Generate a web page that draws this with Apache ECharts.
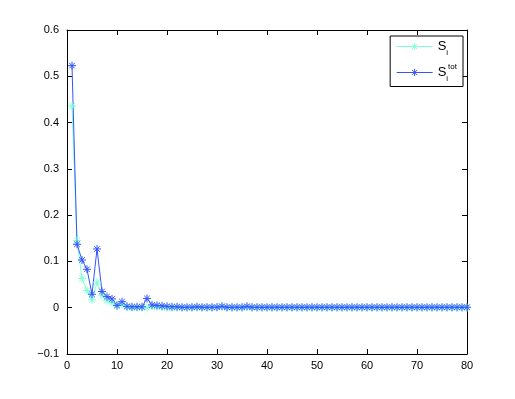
<!DOCTYPE html>
<html>
<head>
<meta charset="utf-8">
<script src="https://cdn.jsdelivr.net/npm/echarts@6/dist/echarts.min.js"></script>
<style>
  html, body { margin: 0; padding: 0; background: #fff; }
  #chart { width: 515px; height: 399px; }
</style>
</head>
<body>
<div id="chart"></div>
<script>
// 指标序号 1..80
const idx = [];
for (let i = 1; i <= 80; i++) idx.push(i);

// 一阶敏感度 S_i
const sFirst = [
  0.436, 0.145, 0.063, 0.037, 0.017, 0.055, 0.026, 0.015, 0.011, 0.004,
  0.007, 0.001, 0.000, 0.000, 0.000, 0.000, 0.003, 0.002, 0.001, 0.000,
  0.000, 0.000, 0.000, 0.000, 0.000, 0.000, 0.000, 0.000, 0.000, 0.001,
  0.003, 0.000, 0.000, 0.000, 0.000, 0.001, 0.000, 0.000, 0.000, 0.000,
  0.000, 0.000, 0.000, 0.000, 0.000, 0.000, 0.000, 0.000, 0.000, 0.000,
  0.000, 0.000, 0.000, 0.000, 0.000, 0.000, 0.000, 0.000, 0.000, 0.000,
  0.000, 0.000, 0.000, 0.000, 0.000, 0.000, 0.000, 0.000, 0.000, 0.000,
  0.000, 0.000, 0.000, 0.000, 0.000, 0.000, 0.000, 0.000, 0.000, 0.000
];

// 总敏感度 S_i^tot
const sTotal = [
  0.523, 0.137, 0.103, 0.083, 0.029, 0.127, 0.035, 0.024, 0.019, 0.005,
  0.013, 0.003, 0.002, 0.002, 0.002, 0.020, 0.006, 0.005, 0.004, 0.003,
  0.002, 0.002, 0.001, 0.001, 0.001, 0.002, 0.001, 0.001, 0.001, 0.001,
  0.003, 0.001, 0.001, 0.001, 0.001, 0.003, 0.001, 0.001, 0.001, 0.001,
  0.001, 0.001, 0.001, 0.001, 0.001, 0.001, 0.001, 0.001, 0.001, 0.001,
  0.001, 0.001, 0.001, 0.001, 0.001, 0.001, 0.001, 0.001, 0.001, 0.001,
  0.001, 0.001, 0.001, 0.001, 0.001, 0.001, 0.001, 0.001, 0.001, 0.001,
  0.001, 0.001, 0.001, 0.001, 0.001, 0.001, 0.001, 0.001, 0.001, 0.001
];

const COLOR_FIRST = '#7fffd4';
const COLOR_TOTAL = '#3355ff';
// MATLAB 风格的星号标记
const STAR = 'path://M0,5L10,5M5,0L5,10M1.5,1.5L8.5,8.5M8.5,1.5L1.5,8.5';
const FONT = 'Liberation Sans, Arial, sans-serif';

const chart = echarts.init(document.getElementById('chart'));

function pairs(vals) {
  return idx.map((x, k) => [x, vals[k]]);
}

function makeSeries(name, vals, color) {
  return {
    name: name,
    type: 'line',
    data: pairs(vals),
    symbol: STAR,
    symbolSize: 8,
    showAllSymbol: true,
    itemStyle: { color: 'none', borderColor: color, borderWidth: 1 },
    lineStyle: { color: color, width: 1 },
    animation: false
  };
}

// 图例项：线 + 星号
function legendItem(name, color) {
  return {
    name: name,
    itemStyle: { color: 'none', borderColor: color, borderWidth: 1 },
    lineStyle: { color: color, width: 1 }
  };
}

const tickStyle = { show: true, inside: true, length: 5, lineStyle: { color: '#000', width: 1 } };
const lineStyle = { show: true, onZero: false, lineStyle: { color: '#000', width: 1 } };

const option = {
  backgroundColor: '#fff',
  grid: { left: 67, right: 48, top: 30, bottom: 45 },
  legend: {
    orient: 'vertical',
    right: 52,
    top: 36,
    backgroundColor: '#fff',
    borderColor: '#000',
    borderWidth: 1,
    borderRadius: 0,
    padding: [4, 6, 4, 6],
    itemWidth: 36,
    itemHeight: 9,
    itemGap: 6,
    data: [legendItem('Si', COLOR_FIRST), legendItem('Stot', COLOR_TOTAL)],
    formatter: function (name) {
      return name === 'Si' ? '{s|S}{sub|i}' : '{s|S}{sub|i}{sup|tot}';
    },
    textStyle: {
      color: '#000',
      fontFamily: FONT,
      rich: {
        s: { fontSize: 13, fontFamily: FONT, lineHeight: 20, verticalAlign: 'middle' },
        sub: { fontSize: 8, fontFamily: FONT, verticalAlign: 'bottom', lineHeight: 20 },
        sup: { fontSize: 8, fontFamily: FONT, verticalAlign: 'top', lineHeight: 20 }
      }
    }
  },
  xAxis: [
    {
      type: 'value', min: 0, max: 80, interval: 10,
      axisLine: lineStyle, axisTick: tickStyle, splitLine: { show: false },
      axisLabel: { color: '#000', fontSize: 11, fontFamily: FONT, margin: 6 }
    },
    {
      type: 'value', position: 'top', min: 0, max: 80, interval: 10,
      axisLine: lineStyle, axisTick: tickStyle, splitLine: { show: false },
      axisLabel: { show: false }
    }
  ],
  yAxis: [
    {
      type: 'value', min: -0.1, max: 0.6, interval: 0.1,
      axisLine: lineStyle, axisTick: tickStyle, splitLine: { show: false },
      axisLabel: {
        color: '#000', fontSize: 11, fontFamily: FONT, margin: 8,
        formatter: function (v) {
          const r = Math.round(v * 10) / 10;
          return String(r).replace('-', '\u2212');
        }
      }
    },
    {
      type: 'value', position: 'right', min: -0.1, max: 0.6, interval: 0.1,
      axisLine: lineStyle, axisTick: tickStyle, splitLine: { show: false },
      axisLabel: { show: false }
    }
  ],
  series: [
    makeSeries('Si', sFirst, COLOR_FIRST),
    makeSeries('Stot', sTotal, COLOR_TOTAL)
  ]
};

chart.setOption(option);
</script>
</body>
</html>
